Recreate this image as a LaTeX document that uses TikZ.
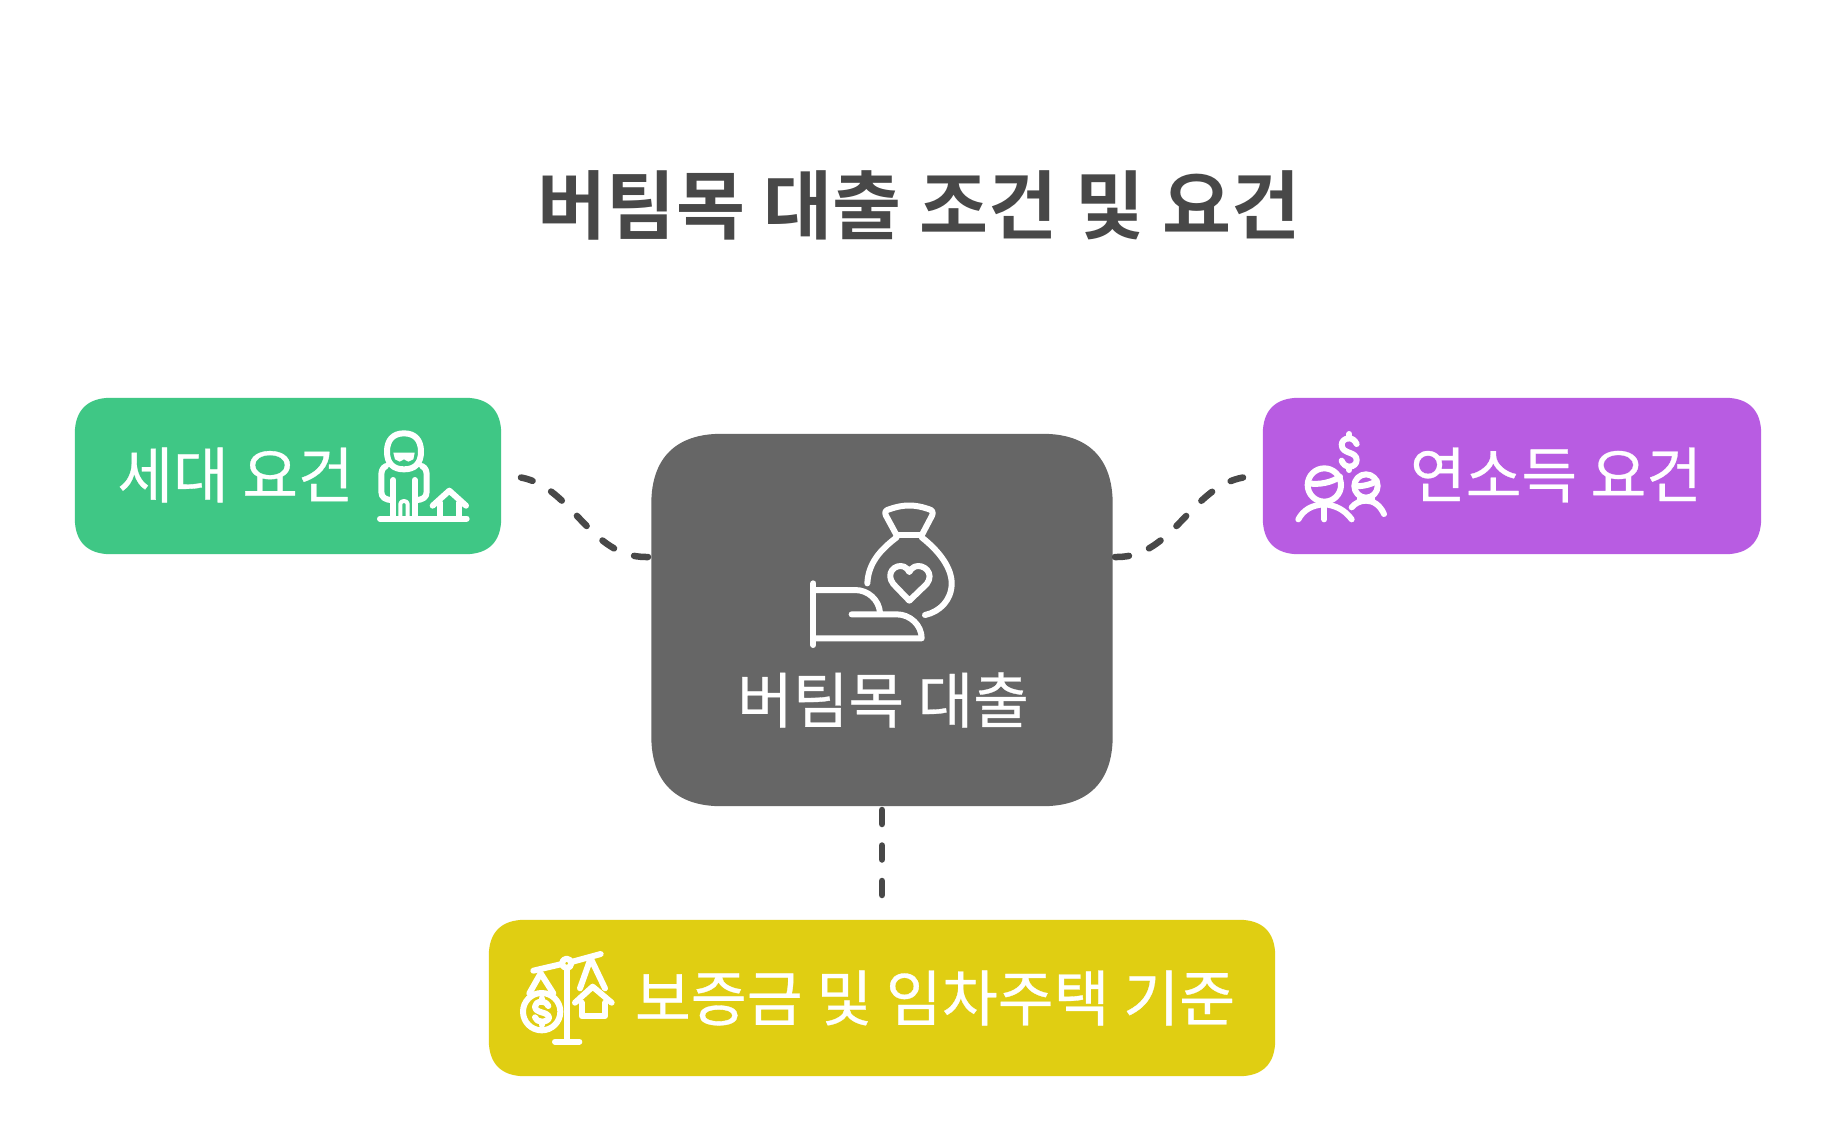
\documentclass[tikz,border=0pt]{standalone}
\usepackage{fontspec}
\setmainfont[FakeBold=0.5]{Noto Sans CJK KR}
\newfontfamily\titlefont[LetterSpace=0.8]{Noto Sans CJK KR Bold}
\definecolor{cgreen}{RGB}{63,199,133}
\definecolor{cgray}{RGB}{102,102,102}
\definecolor{cpurple}{RGB}{184,92,226}
\definecolor{cyellow}{RGB}{224,206,18}
\definecolor{cdark}{RGB}{72,72,72}
\tikzset{
  box/.style={draw=none,inner sep=0pt},
  lbl/.style={inner sep=0pt,text=white,font=\fontsize{60.5}{61}\selectfont},
  conn/.style={draw=cdark,line width=6.5pt,line cap=round,dash pattern=on 14pt off 21.5pt},
  icon/.style={draw=white,line width=6pt,line cap=round,line join=round},
}
\newcommand\sqbox[3]{%
  \fill[#3] ([xshift=#2]#1.north west) -- ([xshift=-#2]#1.north east)
    .. controls ([xshift=-.35*#2]#1.north east) and ([yshift=-.35*#2]#1.north east) .. ([yshift=-#2]#1.north east)
    -- ([yshift=#2]#1.south east)
    .. controls ([yshift=.35*#2]#1.south east) and ([xshift=-.35*#2]#1.south east) .. ([xshift=-#2]#1.south east)
    -- ([xshift=#2]#1.south west)
    .. controls ([xshift=.35*#2]#1.south west) and ([yshift=.35*#2]#1.south west) .. ([yshift=#2]#1.south west)
    -- ([yshift=-#2]#1.north west)
    .. controls ([yshift=-.35*#2]#1.north west) and ([xshift=.35*#2]#1.north west) .. ([xshift=#2]#1.north west) -- cycle;}
\begin{document}
\begin{tikzpicture}[x=1pt,y=-1pt]
\useasboundingbox (0,0) rectangle (1836,1122);
\fill[white] (0,0) rectangle (1836,1122);
\node[inner sep=0pt,text=cdark,font=\fontsize{75}{76}\titlefont\selectfont] (title) at (919,205) {버팀목 대출 조건 및 요건};
\node[box,minimum width=426pt,minimum height=156pt] (g) at (288,476) {};
\node[box,minimum width=498pt,minimum height=156pt] (p) at (1512,476) {};
\node[box,minimum width=786pt,minimum height=156pt] (y) at (882,998) {};
\node[box,minimum width=461pt,minimum height=372pt] (c) at (882,620) {};
\sqbox{g}{36pt}{cgreen}
\sqbox{p}{36pt}{cpurple}
\sqbox{y}{36pt}{cyellow}
\sqbox{c}{70pt}{cgray}
\node[lbl] (gl) at (235.5,475) {세대 요건};
\node[lbl] (pl) at (1556,475) {연소득 요건};
\node[lbl] (cl) at (883,700) {버팀목 대출};
\node[lbl,font=\fontsize{60.8}{61}\selectfont] (yl) at (935,998) {보증금 및 임차주택 기준};
\coordinate (a1) at (521,477.5);
\coordinate (a2) at (648,557);
\coordinate (b1) at (1243,477.5);
\coordinate (b2) at (1115,557);
\coordinate (v1) at (882,810);
\coordinate (v2) at (882,897);
\draw[conn] (a2) -- ++(-2,0) .. controls (590,557) and (572,487) .. (a1);
\draw[conn] (b2) -- ++(2,0) .. controls (1173,557) and (1191,487) .. (b1);
\draw[conn] (v1) -- (v2);
% green icon
\begin{scope}[shift={(340,410)},x=1/3*1pt,y=-1/3*1pt,icon]
\draw (192,70) .. controls (225,70) and (243,90) .. (243,125) .. controls (243,160) and (225,178) .. (192,178) .. controls (159,178) and (141,160) .. (141,125) .. controls (141,90) and (159,70) .. (192,70) -- cycle;
\fill[white,draw=none] (160,128) -- (224,128) -- (220,148) -- (205,155) -- (192,148) -- (179,155) -- (165,148) -- cycle;
\draw (138,168) .. controls (125,175) and (124,185) .. (124,200) -- (124,245) .. controls (124,262) and (135,270) .. (158,270);
\draw (246,168) .. controls (259,175) and (260,185) .. (260,200) -- (260,245) .. controls (260,262) and (249,270) .. (226,270);
\draw (160,210) -- (160,322);
\draw (224,210) -- (224,322);
\draw[line width=4pt] (181,322) -- (181,282) .. controls (181,270) and (203,270) .. (203,282) -- (203,322);
\draw (120,326) -- (380,326);
\draw (278,287) -- (328,242) -- (378,287);
\draw (300,278) -- (300,322);
\draw (358,278) -- (358,322);
\end{scope}
% bag icon
\begin{scope}[shift={(780,480)},x=1/3*1pt,y=-1/3*1pt,icon]
\draw (100,310) -- (100,495);
\draw (100,330) -- (225,330) .. controls (265,330) and (297,360) .. (300,398);
\draw (215,403) -- (350,403) .. controls (390,403) and (425,435) .. (425,475) -- (100,475);
\draw (350,166) -- (425,166);
\draw (350,166) -- (318,107) .. controls (312,95) and (318,90) .. (330,87) .. controls (370,73) and (405,73) .. (445,87) .. controls (457,90) and (461,97) .. (456,107) -- (425,166);
\draw (350,172) .. controls (300,210) and (265,250) .. (262,310);
\draw (425,172) .. controls (480,215) and (515,265) .. (515,310) .. controls (515,360) and (480,395) .. (435,405);
\draw (388,362) -- (340,312) .. controls (315,280) and (345,250) .. (372,260) .. controls (380,263) and (385,270) .. (388,276) .. controls (391,270) and (396,263) .. (404,260) .. controls (431,250) and (465,280) .. (440,312) -- cycle;
\end{scope}
% purple icon
\begin{scope}[shift={(1270,410)},x=1/3*1pt,y=-1/3*1pt,icon]
\draw (238,72) -- (238,85);
\draw (238,170) -- (238,180);
\draw (260,102) .. controls (255,90) and (245,85) .. (238,85) .. controls (222,85) and (215,95) .. (215,105) .. controls (215,120) and (230,125) .. (238,128) .. controls (250,132) and (260,138) .. (260,150) .. controls (260,162) and (250,170) .. (238,170) .. controls (228,170) and (218,162) .. (215,152);
\draw (163,225) circle [radius=50];
\draw (118,220) .. controls (145,225) and (185,218) .. (210,200);
\draw (163,278) -- (163,328);
\draw (85,328) .. controls (100,300) and (125,285) .. (163,283) .. controls (195,285) and (225,300) .. (245,328);
\draw (288,228) circle [radius=35];
\draw (256,228) .. controls (275,230) and (305,224) .. (320,212);
\draw (270,262) -- (270,272);
\draw (305,262) -- (305,272);
\draw (245,292) .. controls (255,280) and (270,272) .. (288,272) .. controls (310,272) and (330,285) .. (342,312);
\end{scope}
% yellow icon
\begin{scope}[shift={(500,930)},x=1/3*1pt,y=-1/3*1pt,icon]
\draw (100,122) -- (186,102);
\draw (214,96) -- (302,72);
\draw (200,100) circle [radius=14];
\draw (200,116) -- (200,335);
\draw (165,335) -- (238,335);
\draw (88,190) -- (122,130) -- (160,190);
\draw (240,175) -- (272,85) -- (315,175);
\draw (125,245) circle [radius=56];
\draw (125,205) -- (125,215);
\draw (125,275) -- (125,285);
\draw (145,228) .. controls (140,218) and (132,215) .. (125,215) .. controls (112,215) and (105,222) .. (105,230) .. controls (105,240) and (115,244) .. (125,247) .. controls (137,250) and (147,255) .. (147,263) .. controls (147,270) and (135,275) .. (125,275) .. controls (115,275) and (108,270) .. (105,262);
\draw (225,218) -- (278,170) -- (335,218);
\draw (245,218) -- (245,258) -- (315,258) -- (315,218);
\end{scope}
\end{tikzpicture}
\end{document}
